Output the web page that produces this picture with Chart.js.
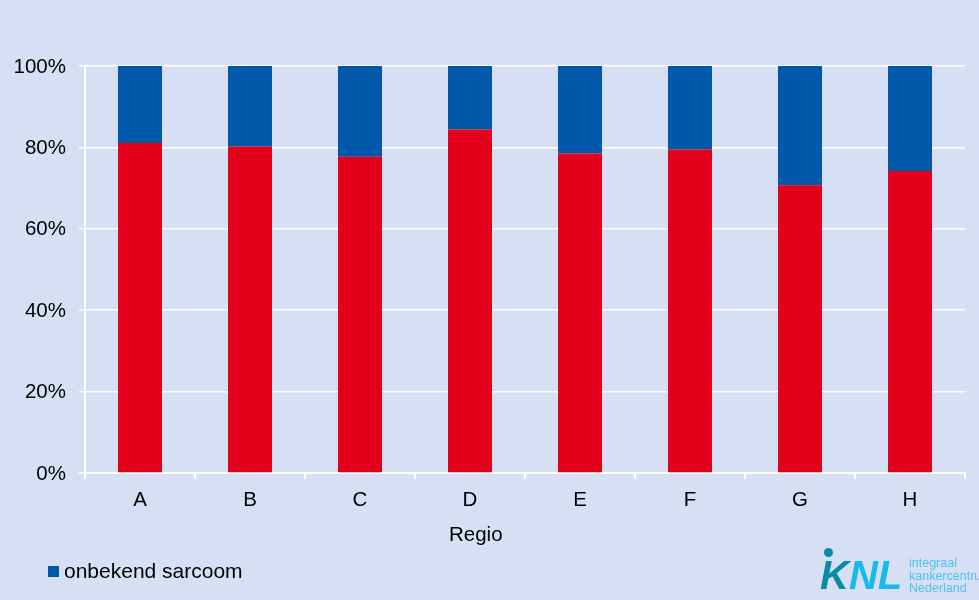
<!DOCTYPE html>
<html>
<head>
<meta charset="utf-8">
<script src="https://cdn.jsdelivr.net/npm/chart.js@4.4.1/dist/chart.umd.min.js"></script>
<style>
  html, body { margin: 0; padding: 0; background: #d6dff3; overflow: hidden; }
  #wrap { position: relative; width: 979px; height: 600px; }
  #chart { position: absolute; left: 0; top: 0; }
  #legend { position: absolute; left: 48px; top: 558px; font: 21px "Liberation Sans", Arial, sans-serif; color: #000; line-height: 26px; white-space: nowrap; }
  #legend .sw { display: inline-block; width: 11px; height: 11px; margin-right: 5px; vertical-align: 1px; }
  .logo { position: absolute; left: 812px; top: 546px; width: 167px; height: 54px; overflow: hidden; }
  .logo .dot { position: absolute; left: 12px; top: 2px; width: 9px; height: 9px; border-radius: 50%; background: #0a8aa6; }
  .logo .mark { position: absolute; left: 8px; top: 8px; font: italic bold 40px "Liberation Sans", Arial, sans-serif; letter-spacing: 0px; line-height: 42px; }
  .logo .k { color: #0a8aa6; }
  .logo .nl { color: #18b9ec; }
  .logo .sub { position: absolute; left: 97px; top: 11px; font: 12.5px "Liberation Sans", Arial, sans-serif; line-height: 12.5px; color: #4cc3ee; white-space: nowrap; }
</style>
</head>
<body>
<div id="wrap">
  <canvas id="chart" width="979" height="600"></canvas>
  <div id="legend"></div>
  <div class="logo">
    <div class="dot"></div>
    <div class="mark"><span class="k">K</span><span class="nl">NL</span></div>
    <div class="sub">integraal<br>kankercentrum<br>Nederland</div>
  </div>
</div>
<script>
const regions = ["A", "B", "C", "D", "E", "F", "G", "H"];
// share of known sarcoma type per region (%)
const bekend = [81.1, 80.2, 77.7, 84.4, 78.5, 79.5, 70.7, 74.2];
const onbekend = bekend.map(v => +(100 - v).toFixed(1));
const yTicks = [0, 20, 40, 60, 80, 100];

const FONT = "'Liberation Sans', Arial, sans-serif";
const FONT_SIZE = 20.5;

// x-axis title, placed a bit left of the plot centre
const axisTitle = {
  id: "axisTitle",
  afterDraw(chart) {
    const ctx = chart.ctx;
    ctx.save();
    ctx.font = FONT_SIZE + "px " + FONT;
    ctx.fillStyle = "#000";
    ctx.textAlign = "center";
    ctx.textBaseline = "middle";
    ctx.fillText("Regio", chart.width * 0.486, chart.chartArea.bottom + 62);
    ctx.restore();
  }
};

const chart = new Chart(document.getElementById("chart"), {
  type: "bar",
  data: {
    labels: regions,
    datasets: [
      { label: "bekend sarcoom", data: bekend, backgroundColor: "#e2001a", showInLegend: false },
      { label: "onbekend sarcoom", data: onbekend, backgroundColor: "#0058ab", showInLegend: true }
    ]
  },
  options: {
    responsive: false,
    animation: false,
    devicePixelRatio: 1,
    barPercentage: 1,
    categoryPercentage: 0.4,
    layout: { padding: { top: 66, right: 14, left: 0, bottom: 0 } },
    scales: {
      x: {
        stacked: true,
        border: { color: "#fff", width: 2 },
        grid: { drawOnChartArea: false, drawTicks: true, tickLength: 6, color: "#fff", lineWidth: 2 },
        ticks: { color: "#000", font: { family: FONT, size: FONT_SIZE }, padding: 9 },
        afterFit: s => { s.height = 127; }
      },
      y: {
        stacked: true,
        min: 0,
        max: 100,
        border: { color: "#fff", width: 2 },
        grid: { color: "#fff", lineWidth: 1.5, tickLength: 6 },
        afterBuildTicks: s => { s.ticks = yTicks.map(v => ({ value: v })); },
        ticks: {
          color: "#000",
          font: { family: FONT, size: FONT_SIZE },
          padding: 13,
          labelOffset: 1,
          callback: v => v + "%"
        },
        afterFit: s => { s.width = 85; }
      }
    },
    plugins: {
      legend: { display: false },
      tooltip: { enabled: false }
    }
  },
  plugins: [axisTitle]
});

// legend built from the datasets themselves
const legendEl = document.getElementById("legend");
chart.data.datasets.filter(d => d.showInLegend).forEach(d => {
  const item = document.createElement("span");
  const sw = document.createElement("span");
  sw.className = "sw";
  sw.style.background = d.backgroundColor;
  item.appendChild(sw);
  item.appendChild(document.createTextNode(d.label));
  legendEl.appendChild(item);
});
</script>
</body>
</html>
